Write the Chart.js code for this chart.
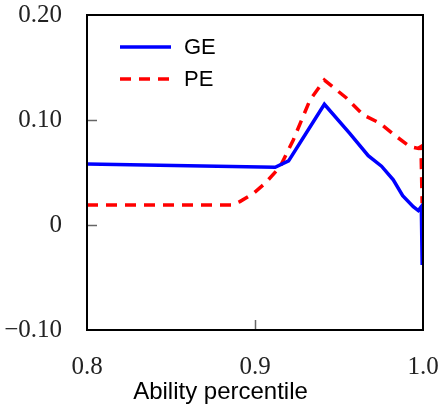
<!DOCTYPE html>
<html>
<head>
<meta charset="utf-8">
<script src="https://cdn.jsdelivr.net/npm/chart.js@4"></script>
<style>
  html, body { margin: 0; padding: 0; background: #fff; }
  #wrap { width: 441px; height: 406px; }
</style>
</head>
<body>
<div id="wrap"><canvas id="chart" width="441" height="406"></canvas></div>
<script>
// values
const geX = [0.800, 0.912, 0.920, 0.9413, 0.9565, 0.9674, 0.9753, 0.9823, 0.9879, 0.9942, 0.9972, 0.9990, 0.9995];
const geY = [0.058, 0.055, 0.061, 0.115, 0.087, 0.066, 0.056, 0.043, 0.028, 0.0175, 0.0137, 0.0175, -0.038];

const peX = [0.800, 0.886, 0.891, 0.899, 0.906, 0.915, 0.9228, 0.9327, 0.9413, 0.9546, 0.9645, 0.9744, 0.9843, 0.9923, 0.9972, 0.9988, 0.9995];
const peY = [0.019, 0.019, 0.0223, 0.030, 0.0397, 0.0556, 0.081, 0.119, 0.138, 0.1207, 0.1048, 0.0969, 0.0841, 0.0746, 0.073, 0.0746, 0.0207];

const yTicks = [-0.10, 0, 0.10, 0.20];
const yTickLabels = ['\u22120.10', '0', '0.10', '0.20'];
const xTicks = [0.8, 0.9, 1.0];
const xTickLabels = ['0.8', '0.9', '1.0'];
const innerYTicks = [0, 0.10];
const innerXTicks = [0.9];
const xTitle = 'Ability percentile';

function toPoints(xs, ys) {
    return xs.map((x, i) => ({ x: x, y: ys[i] }));
}

// labels may hang over the plot edge, so don't let them shrink the area
function noLabelPadding(s) {
    s.paddingLeft = 0;
    s.paddingRight = 0;
    s.paddingTop = 0;
    s.paddingBottom = 0;
}

// frame, inner tick marks, legend inside the plot, axis title centred on the figure
const framePlugin = {
    id: 'frame',
    afterDraw(chart) {
        const ctx = chart.ctx;
        const a = chart.chartArea;
        const xs = chart.scales.x;
        const ys = chart.scales.y;

        ctx.save();
        ctx.strokeStyle = '#666';
        ctx.lineWidth = 1.5;
        innerYTicks.forEach(v => {
            const py = Math.round(ys.getPixelForValue(v)) + 0.5;
            ctx.beginPath();
            ctx.moveTo(a.left, py);
            ctx.lineTo(a.left + 10, py);
            ctx.stroke();
        });
        innerXTicks.forEach(v => {
            const px = Math.round(xs.getPixelForValue(v)) + 0.5;
            ctx.beginPath();
            ctx.moveTo(px, a.bottom);
            ctx.lineTo(px, a.bottom - 10);
            ctx.stroke();
        });

        ctx.strokeStyle = '#000';
        ctx.lineWidth = 2;
        ctx.strokeRect(a.left, a.top, a.right - a.left, a.bottom - a.top);

        // legend
        ctx.font = '22px "Liberation Sans", Arial, sans-serif';
        ctx.textBaseline = 'middle';
        ctx.fillStyle = '#000';
        chart.data.datasets.forEach((ds, i) => {
            const y = a.top + 32 + i * 32;
            ctx.strokeStyle = ds.borderColor;
            ctx.lineWidth = ds.borderWidth;
            ctx.setLineDash(ds.borderDash || []);
            ctx.beginPath();
            ctx.moveTo(a.left + 33, y);
            ctx.lineTo(a.left + 84, y);
            ctx.stroke();
            ctx.setLineDash([]);
            ctx.fillText(ds.label, a.left + 97, y + 1);
        });

        // x title
        ctx.font = '24px "Liberation Sans", Arial, sans-serif';
        ctx.textAlign = 'center';
        ctx.fillText(xTitle, chart.width / 2, 392);
        ctx.restore();
    }
};

new Chart(document.getElementById('chart'), {
    type: 'line',
    data: {
        datasets: [{
            label: 'GE',
            data: toPoints(geX, geY),
            borderColor: '#0000ff',
            borderWidth: 3.5,
            pointRadius: 0,
            tension: 0
        }, {
            label: 'PE',
            data: toPoints(peX, peY),
            borderColor: '#ff0000',
            borderWidth: 3.5,
            borderDash: [11, 8],
            pointRadius: 0,
            tension: 0
        }]
    },
    options: {
        responsive: false,
        animation: false,
        layout: { padding: { top: 15, right: 18, left: 0, bottom: 0 } },
        plugins: {
            legend: { display: false },
            tooltip: { enabled: false }
        },
        scales: {
            x: {
                type: 'linear',
                min: 0.8,
                max: 1.0,
                afterBuildTicks: s => { s.ticks = xTicks.map(v => ({ value: v })); },
                afterFit: s => { s.height = 76; noLabelPadding(s); },
                grid: { display: false, drawTicks: false },
                border: { display: false },
                ticks: {
                    padding: 22,
                    color: '#222',
                    font: { family: '"Liberation Serif", "Times New Roman", serif', size: 25 },
                    callback: v => xTickLabels[xTicks.indexOf(v)]
                }
            },
            y: {
                type: 'linear',
                min: -0.1,
                max: 0.2,
                afterBuildTicks: s => { s.ticks = yTicks.map(v => ({ value: v })); },
                afterFit: s => { s.width = 87; noLabelPadding(s); },
                grid: { display: false, drawTicks: false },
                border: { display: false },
                ticks: {
                    padding: 25,
                    color: '#222',
                    font: { family: '"Liberation Serif", "Times New Roman", serif', size: 25 },
                    callback: v => yTickLabels[yTicks.findIndex(t => Math.abs(t - v) < 1e-9)]
                }
            }
        }
    },
    plugins: [framePlugin]
});
</script>
</body>
</html>
